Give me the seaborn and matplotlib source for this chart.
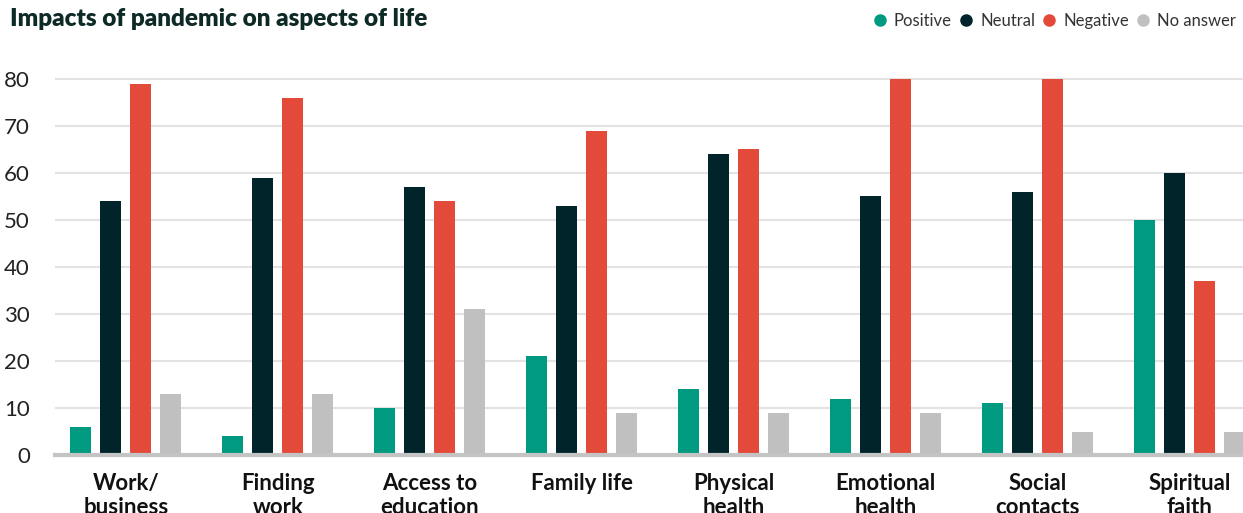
import matplotlib
matplotlib.use("Agg")
import matplotlib.pyplot as plt
from matplotlib.lines import Line2D
import pandas as pd
import seaborn as sns

# Data (% of respondents)
categories = [
    "Work/\nbusiness", "Finding\nwork", "Access to\neducation", "Family life",
    "Physical\nhealth", "Emotional\nhealth", "Social\ncontacts", "Spiritual\nfaith",
]
series = ["Positive", "Neutral", "Negative", "No answer"]
positive = [6, 4, 10, 21, 14, 12, 11, 50]
neutral = [54, 59, 57, 53, 64, 55, 56, 60]
negative = [79, 76, 54, 69, 65, 80, 80, 37]
no_answer = [13, 13, 31, 9, 9, 9, 5, 5]
colors = ["#009a80", "#00242a", "#e34a39", "#c0c0c0"]
y_ticks = [0, 10, 20, 30, 40, 50, 60, 70, 80]

df = pd.DataFrame({
    "aspect": categories * 4,
    "impact": [s for s in series for _ in categories],
    "value": positive + neutral + negative + no_answer,
})

sns.set_theme(style="white")
plt.rcParams["font.family"] = ["Lato", "DejaVu Sans"]

fig = plt.figure(figsize=(12.43, 5.13), dpi=100)
ax = fig.add_axes([0.0442, 0.113, 0.9558, 0.7697])

sns.barplot(
    data=df, x="aspect", y="value", hue="impact",
    hue_order=series, palette=colors, width=0.79, gap=0.3,
    saturation=1, legend=False, linewidth=0, ax=ax,
)

ax.set_xlim(-0.467, 7.35)
ax.set_ylim(0, 84)
ax.set_yticks(y_ticks)
ax.yaxis.grid(True, color="#e3e3e3", linewidth=1.5)
ax.set_axisbelow(True)
ax.set_xlabel("")
ax.set_ylabel("")
for side in ["top", "right", "left"]:
    ax.spines[side].set_visible(False)
ax.spines["bottom"].set_color("#c4c4c4")
ax.spines["bottom"].set_linewidth(3)
ax.tick_params(axis="y", length=0, pad=18, labelsize=16, labelcolor="#222222")
ax.tick_params(axis="x", length=0, pad=13, labelsize=16, labelcolor="#111111")
# labels are two lines; the second line runs off the bottom like in the original
for lab in ax.get_xticklabels():
    lab.set_fontweight("bold")
    lab.set_linespacing(1.15)
    lab.set_verticalalignment("top")

fig.text(0.008, 0.963, "Impacts of pandemic on aspects of life", fontsize=17.5,
         fontweight="heavy", color="#0d2a26", va="center", ha="left")

handles = [Line2D([], [], marker="o", linestyle="", markersize=8,
                  markerfacecolor=c, markeredgecolor=c) for c in colors]
fig.legend(handles, series, loc="center right", bbox_to_anchor=(1.0, 0.96),
           ncol=4, frameon=False, fontsize=12, handletextpad=0.35,
           columnspacing=0.35, handlelength=1.0, labelcolor="#333333",
           borderaxespad=0.0)

fig.savefig("out.png", dpi=100)
